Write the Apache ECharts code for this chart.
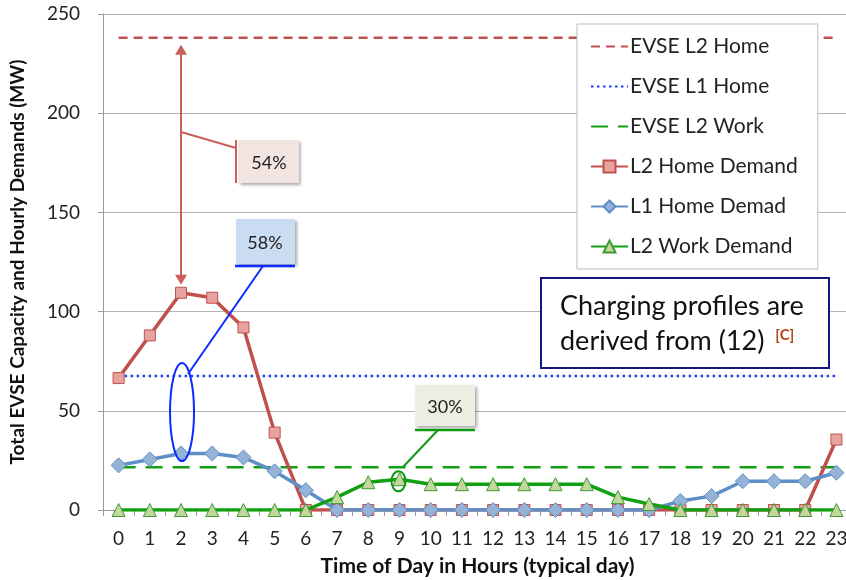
<!DOCTYPE html>
<html><head><meta charset="utf-8">
<script src="https://cdn.jsdelivr.net/npm/echarts@6/dist/echarts.min.js"></script>
<style>html,body{margin:0;padding:0;background:#fff}#c{width:846px;height:580px}</style>
</head><body><div id="c"></div>
<script>
const hours = ['0','1','2','3','4','5','6','7','8','9','10','11','12','13','14','15','16','17','18','19','20','21','22','23'];
const evseL2Home = [238,238,238,238,238,238,238,238,238,238,238,238,238,238,238,238,238,238,238,238,238,238,238,238];
const evseL1Home = [67.5,67.5,67.5,67.5,67.5,67.5,67.5,67.5,67.5,67.5,67.5,67.5,67.5,67.5,67.5,67.5,67.5,67.5,67.5,67.5,67.5,67.5,67.5,67.5];
const evseL2Work = [21.5,21.5,21.5,21.5,21.5,21.5,21.5,21.5,21.5,21.5,21.5,21.5,21.5,21.5,21.5,21.5,21.5,21.5,21.5,21.5,21.5,21.5,21.5,21.5];
const l2HomeDemand = [66.5,88,109.5,107,92,39,0,0,0,0,0,0,0,0,0,0,0,0,0,0,0,0,0,35.5];
const l1HomeDemand = [22.5,25.5,28.5,28.5,26.5,19.5,10,0,0,0,0,0,0,0,0,0,0,0,4.5,7,14.5,14.5,14.5,18.8];
const l2WorkDemand = [0,0,0,0,0,0,0,6.5,14,15.5,13,13,13,13,13,13,6.5,3,0,0,0,0,0,0];
const yTicks = [0,50,100,150,200,250];
const legendNames = ['EVSE L2 Home','EVSE L1 Home','EVSE L2 Work','L2 Home Demand','L1 Home Demad','L2 Work Demand'];

const FONT = 'Lato, "Open Sans", sans-serif';
const chart = echarts.init(document.getElementById('c'), null, {renderer:'canvas'});
const option = {
  animation:false,
  backgroundColor:'#fff',
  textStyle:{fontFamily:FONT},
  grid:{left:103, top:14, bottom:70, right:-6, containLabel:false, outerBoundsMode:'none'},
  xAxis:{
    type:'category', data:hours, boundaryGap:true,
    name:'Time of Day in Hours (typical day)', nameLocation:'middle', nameGap:46,
    nameTextStyle:{fontSize:21, fontWeight:'bold', color:'#111', fontFamily:FONT},
    axisLine:{lineStyle:{color:'#9a9a9a', width:1}},
    axisTick:{show:true, length:6, lineStyle:{color:'#9a9a9a'}},
    axisLabel:{fontSize:19, color:'#222', margin:19, interval:0, fontFamily:FONT},
    splitLine:{show:false}
  },
  yAxis:{
    type:'value', min:yTicks[0], max:yTicks[yTicks.length-1], interval:50,
    name:'Total EVSE Capacity and Hourly Demands (MW)', nameLocation:'middle', nameGap:76,
    nameTextStyle:{fontSize:19, fontWeight:'bold', color:'#111', fontFamily:FONT},
    axisLine:{show:true, lineStyle:{color:'#9a9a9a'}},
    axisTick:{show:true, length:5, lineStyle:{color:'#9a9a9a'}},
    axisLabel:{fontSize:19, color:'#222', margin:23, fontFamily:FONT},
    splitLine:{show:true, lineStyle:{color:'#b5b5b5', width:1}}
  },
  legend:{
    orient:'vertical', left:577, top:24,
    backgroundColor:'#fff', borderColor:'#bdbdbd', borderWidth:1,
    padding:[12,20,12,13], itemGap:19, itemWidth:37, itemHeight:15,
    textStyle:{fontSize:21, color:'#222', fontFamily:FONT, padding:[0,0,0,-3]},
    data:legendNames.map((n, i) => i < 3 ? {name:n, itemStyle:{opacity:0}} : {name:n})
  },
  series:[
    {name:'EVSE L2 Home', type:'line', data:evseL2Home, symbol:'none', lineStyle:{color:'#c0504d', width:2.5, type:[9,6]}, itemStyle:{color:'#c0504d'}, z:2},
    {name:'EVSE L1 Home', type:'line', data:evseL1Home, symbol:'none', lineStyle:{color:'#1f3fff', width:2.5, type:[2.5,3.5]}, itemStyle:{color:'#1f3fff'}, z:2},
    {name:'EVSE L2 Work', type:'line', data:evseL2Work, symbol:'none', lineStyle:{color:'#12a012', width:2.5, type:[17,10]}, itemStyle:{color:'#12a012'}, z:2},
    {name:'L2 Home Demand', type:'line', data:l2HomeDemand, symbol:'rect', symbolSize:11, showAllSymbol:true,
      lineStyle:{color:'#c0504d', width:3.5}, itemStyle:{color:'#e6a3a0', borderColor:'#c0504d', borderWidth:1}, z:3},
    {name:'L1 Home Demad', type:'line', data:l1HomeDemand, symbol:'diamond', symbolSize:15, showAllSymbol:true,
      lineStyle:{color:'#5f8fc7', width:3.5}, itemStyle:{color:'#95b3d7', borderColor:'#5f8fc7', borderWidth:1}, z:4},
    {name:'L2 Work Demand', type:'line', data:l2WorkDemand, symbol:'triangle', symbolSize:13, showAllSymbol:true,
      lineStyle:{color:'#11a011', width:3.5}, itemStyle:{color:'#c3d69b', borderColor:'#3f9a35', borderWidth:1}, z:5}
  ]
};
chart.setOption(option);

const p = (i, v) => chart.convertToPixel({gridIndex:0}, [i, v]);
const red = '#cb5f59', blue = '#0a2cff', green = '#109a10';
const shadow = {shadowBlur:3, shadowOffsetX:2, shadowOffsetY:2, shadowColor:'rgba(0,0,0,0.35)'};

const ax = p(2, evseL2Home[2])[0];
const yTop = p(2, evseL2Home[2])[1] + 7;
const yBot = p(2, l2HomeDemand[2])[1] - 8;
const els = [];
// red double arrow
els.push({type:'line', shape:{x1:ax, y1:yTop+8, x2:ax, y2:yBot-8}, style:{stroke:red, lineWidth:2}, z:50});
els.push({type:'polygon', shape:{points:[[ax,yTop],[ax-6,yTop+10],[ax+6,yTop+10]]}, style:{fill:red}, z:50});
els.push({type:'polygon', shape:{points:[[ax,yBot],[ax-6,yBot-10],[ax+6,yBot-10]]}, style:{fill:red}, z:50});
// 54% callout
els.push({type:'line', shape:{x1:ax, y1:132, x2:ax+55, y2:148}, style:{stroke:red, lineWidth:2}, z:50});
els.push({type:'rect', shape:{x:ax+57, y:140, width:61, height:43}, style:Object.assign({fill:'#f2e4e1'}, shadow), z:49});
els.push({type:'line', shape:{x1:ax+55, y1:140, x2:ax+55, y2:183}, style:{stroke:red, lineWidth:2}, z:50});
els.push({type:'text', x:ax+88, y:163, style:{text:'54%', fontSize:18, fill:'#222', align:'center', verticalAlign:'middle', fontFamily:FONT}, z:51});
// 58% callout
const bx = p(2, 0)[0];
els.push({type:'rect', shape:{x:236, y:219, width:59, height:45}, style:Object.assign({fill:'#c9dcf1'}, shadow), z:49});
els.push({type:'line', shape:{x1:235, y1:266, x2:295, y2:266}, style:{stroke:blue, lineWidth:2.5}, z:50});
els.push({type:'text', x:265, y:243, style:{text:'58%', fontSize:18, fill:'#222', align:'center', verticalAlign:'middle', fontFamily:FONT}, z:51});
els.push({type:'line', shape:{x1:263, y1:266, x2:188, y2:374}, style:{stroke:blue, lineWidth:2}, z:50});
els.push({type:'ellipse', shape:{cx:bx+1, cy:412, rx:12, ry:49}, style:{stroke:blue, lineWidth:2, fill:null}, z:50});
// 30% callout
const gx = p(9, 0)[0];
els.push({type:'rect', shape:{x:415, y:385, width:60, height:41}, style:Object.assign({fill:'#eceee1'}, shadow), z:49});
els.push({type:'line', shape:{x1:415, y1:430, x2:475, y2:430}, style:{stroke:green, lineWidth:2.5}, z:50});
els.push({type:'text', x:445, y:407, style:{text:'30%', fontSize:18, fill:'#222', align:'center', verticalAlign:'middle', fontFamily:FONT}, z:51});
els.push({type:'line', shape:{x1:438, y1:430, x2:403, y2:467}, style:{stroke:green, lineWidth:2}, z:50});
els.push({type:'ellipse', shape:{cx:gx-1, cy:p(9, l2WorkDemand[9])[1]+2, rx:7, ry:10}, style:{stroke:green, lineWidth:2, fill:null}, z:50});
// note box
els.push({type:'rect', shape:{x:541, y:278, width:288, height:90}, style:{fill:'#fff', stroke:'#16167f', lineWidth:2}, z:49});
els.push({type:'text', x:560, y:324, style:{
  text:'Charging profiles are\nderived from (12) {c|[C]}', fontSize:27, lineHeight:35, fill:'#111', align:'left', verticalAlign:'middle', fontFamily:FONT,
  rich:{c:{fontSize:15, fontWeight:'bold', fill:'#b5441a', color:'#b5441a', verticalAlign:'top', padding:[4,0,0,4], fontFamily:FONT}}
}, z:51});
chart.setOption({graphic:{elements:els}});
</script></body></html>
